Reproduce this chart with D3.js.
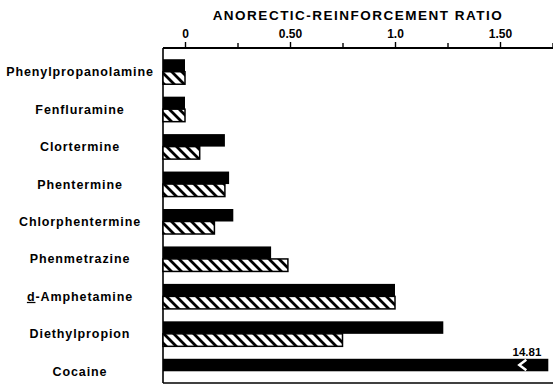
<!DOCTYPE html>
<html>
<head>
<meta charset="utf-8">
<script src="https://cdn.jsdelivr.net/npm/d3@7"></script>
<style>
  html, body { margin: 0; padding: 0; background: #fff; }
  svg { display: block; }
  text { font-family: "Liberation Sans", Arial, Helvetica, sans-serif; fill: #000; }
</style>
</head>
<body>
<svg id="chart" width="553" height="385"></svg>
<script>
// Drugs, top to bottom
const categories = [
  "Phenylpropanolamine", "Fenfluramine", "Clortermine", "Phentermine",
  "Chlorphentermine", "Phenmetrazine", "d-Amphetamine", "Diethylpropion", "Cocaine"
];
// Solid bars and hatched bars (anorectic-reinforcement ratio)
const solidValues   = [0.0, 0.0, 0.19, 0.21, 0.23, 0.41, 1.0, 1.23, 14.81];
const hatchedValues = [0.0, 0.0, 0.07, 0.19, 0.14, 0.49, 1.0, 0.75, null];
// Axis ticks
const majorTicks = [0, 0.5, 1.0, 1.5];
const majorTickLabels = ["0", "0.50", "1.0", "1.50"];
const minorTicks = [0.25, 0.75, 1.25, 1.75];
const axisTitle = "ANORECTIC-REINFORCEMENT RATIO";

const svg = d3.select("#chart");
const frameLeft = 163, frameTop = 48, frameBottom = 383, frameRight = 553;
const clipMax = 1.73;   // bars beyond this are broken off at the edge

const x = d3.scaleLinear().domain([0, 1.5]).range([185, 500]);
const y = d3.scaleBand().domain(categories).range([53, 390]).padding(0);
const barH = 12.5;
const rowMid = c => y(c) + y.bandwidth() / 2;

// Diagonal hatching
const defs = svg.append("defs");
const pat = defs.append("pattern")
  .attr("id", "hatch").attr("patternUnits", "userSpaceOnUse")
  .attr("width", 10).attr("height", 10);
pat.append("rect").attr("width", 10).attr("height", 10).attr("fill", "#fff");
pat.append("path")
  .attr("d", "M-5,5 L5,15 M0,0 L10,10 M5,-5 L15,5")
  .attr("stroke", "#000").attr("stroke-width", 2.8);

// Frame: left edge and bottom
svg.append("line").attr("x1", frameLeft).attr("x2", frameLeft)
  .attr("y1", frameTop).attr("y2", frameBottom)
  .attr("stroke", "#000").attr("stroke-width", 1.6);
svg.append("line").attr("x1", frameLeft).attr("x2", frameRight)
  .attr("y1", frameBottom).attr("y2", frameBottom)
  .attr("stroke", "#000").attr("stroke-width", 1.6);

// Top axis
const axis = d3.axisTop(x).tickValues(majorTicks)
  .tickFormat((d, i) => majorTickLabels[i]).tickSize(6).tickPadding(4);
const gAxis = svg.append("g").attr("transform", `translate(0,${frameTop})`).call(axis);
gAxis.select(".domain").remove();
gAxis.selectAll(".tick line").attr("stroke", "#000").attr("stroke-width", 1.4);
gAxis.selectAll(".tick text")
  .attr("font-size", 12).attr("font-weight", "bold").attr("fill", "#000");
const gMinor = svg.append("g").attr("transform", `translate(0,${frameTop})`)
  .call(d3.axisTop(x).tickValues(minorTicks).tickSize(5).tickFormat(""));
gMinor.select(".domain").remove();
gMinor.selectAll(".tick line").attr("stroke", "#000").attr("stroke-width", 1.4);
svg.append("line").attr("x1", frameLeft).attr("x2", frameRight)
  .attr("y1", frameTop).attr("y2", frameTop)
  .attr("stroke", "#000").attr("stroke-width", 2);

svg.append("text")
  .attr("x", 358).attr("y", 20).attr("text-anchor", "middle")
  .attr("font-size", 13.5).attr("font-weight", "bold").attr("letter-spacing", 1.5)
  .text(axisTitle);

const barEnd = v => x(Math.min(v, clipMax));

// Solid bars
svg.append("g").selectAll("rect")
  .data(categories.map((c, i) => ({ c, v: solidValues[i] })))
  .join("rect")
  .attr("x", frameLeft)
  .attr("y", d => rowMid(d.c) - barH)
  .attr("width", d => barEnd(d.v) - frameLeft)
  .attr("height", barH)
  .attr("fill", "#000");

// Hatched bars
svg.append("g").selectAll("rect")
  .data(categories.map((c, i) => ({ c, v: hatchedValues[i] })).filter(d => d.v !== null))
  .join("rect")
  .attr("x", frameLeft)
  .attr("y", d => rowMid(d.c))
  .attr("width", d => barEnd(d.v) - frameLeft)
  .attr("height", barH)
  .attr("fill", "url(#hatch)")
  .attr("stroke", "#000").attr("stroke-width", 1.5);

// Break mark and value for the off-scale bar
categories.forEach((c, i) => {
  const v = solidValues[i];
  if (v > clipMax) {
    const xe = barEnd(v), top = rowMid(c) - barH;
    svg.append("polyline")
      .attr("points", [[xe - 22, top + 1], [xe - 29, top + barH / 2], [xe - 22, top + barH - 1]].join(" "))
      .attr("fill", "none").attr("stroke", "#fff").attr("stroke-width", 2.5);
    svg.append("text")
      .attr("x", xe - 7).attr("y", top - 3).attr("text-anchor", "end")
      .attr("font-size", 11.5).attr("font-weight", "bold")
      .text(d3.format(".2f")(v));
  }
});

// Category labels
const labels = svg.append("g").selectAll("text")
  .data(categories).join("text")
  .attr("x", 80).attr("y", d => rowMid(d) + 4.5)
  .attr("text-anchor", "middle")
  .attr("font-size", 12.5).attr("font-weight", "bold").attr("letter-spacing", 0.9);
labels.each(function(d) {
  const t = d3.select(this);
  if (d.startsWith("d-")) {
    t.append("tspan").attr("text-decoration", "underline").text("d");
    t.append("tspan").text(d.slice(1));
  } else {
    t.text(d);
  }
});
</script>
</body>
</html>
